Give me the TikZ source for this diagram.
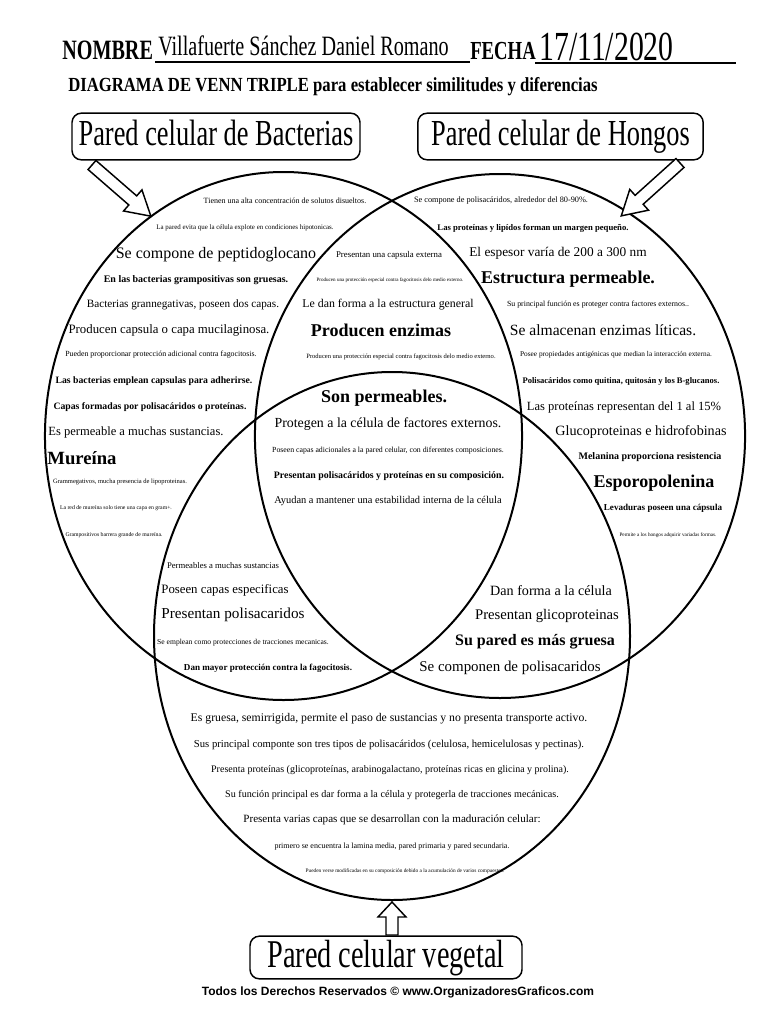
\documentclass[tikz,border=0pt]{standalone}
\usepackage{fontspec}
\setmainfont{Liberation Serif}
\setsansfont{Liberation Sans}
\newfontfamily\narrowserif[FakeStretch=0.72]{Liberation Serif}
\newfontfamily\titleserif[FakeStretch=0.835]{Liberation Serif}
\usetikzlibrary{positioning}
\newcommand{\fs}[1]{\fontsize{#1}{#1}\selectfont}

\begin{document}
\begin{tikzpicture}[
    x=0.75pt, y=-0.75pt,
    venn/.style={line width=1.5pt},
    tag/.style={
        draw,
        line width=1.1pt,
        rounded corners=7pt,
        inner sep=0pt,
        minimum height=35pt,
        text height=18.5pt,
        text depth=5pt,
        font=\narrowserif\fs{27.5}
    },
    txt/.style={inner sep=0pt},
    pics/hollow arrow/.style 2 args={code={
        \draw[line width=1.1pt, fill=white] (0,-6) -- (#1-#2,-6) -- (#1-#2,-14) -- (#1,0) -- (#1-#2,14) -- (#1-#2,6) -- (0,6) -- cycle;
    }}
]
    \useasboundingbox[fill=white] (0,0) rectangle (768,1024);

    % Header
    \node[txt, anchor=base west, font=\narrowserif\bfseries\fs{21}] (nombre) at (62,60) {NOMBRE};
    \node[txt, anchor=base west, font=\narrowserif\fs{21}] (alumno) at (158,56) {Villafuerte Sánchez Daniel Romano};
    \node[txt, anchor=base west, font=\narrowserif\bfseries\fs{19.5}] (fecha) at (470,60) {FECHA};
    \node[txt, anchor=base west, font=\narrowserif\fs{31}] (dia) at (539,61) {17/11/2020};
    \coordinate (ln1) at (155,62);
    \coordinate (ln2) at (470,62);
    \coordinate (ln3) at (535,63);
    \coordinate (ln4) at (736,63);
    \draw[line width=1.3pt] (ln1) -- (ln2);
    \draw[line width=1.3pt] (ln3) -- (ln4);
    \node[txt, anchor=base west, font=\titleserif\bfseries\fs{15}] (titulo) at (68,91) {DIAGRAMA DE VENN TRIPLE para establecer similitudes y diferencias};

    % Circles
    \coordinate (cB) at (283.5,436);
    \coordinate (cH) at (500,436);
    \coordinate (cV) at (392,636);
    \draw[venn] (cB) ellipse [x radius=178.9pt, y radius=198pt];
    \draw[venn] (cH) ellipse [x radius=183.8pt, y radius=196.5pt];
    \draw[venn] (cV) ellipse [x radius=178.5pt, y radius=198pt];

    % Labels
    \node[tag, minimum width=216pt] (bact) at (216,136.5) {Pared celular de Bacterias};
    \node[tag, minimum width=214pt] (hong) at (560.5,136.5) {Pared celular de Hongos};
    \node[tag, minimum width=204pt, minimum height=32pt, text height=20pt, text depth=5.5pt, font=\narrowserif\fs{29.5}] (veg) at (386,957.5) {Pared celular vegetal};
    \pic[rotate=-41] at (92,165) {hollow arrow={78}{24}};
    \pic[rotate=-138] at (680,163) {hollow arrow={79}{24}};
    \pic[rotate=90] at (392,935) {hollow arrow={33}{15}};

    % Bacterias
    \node[txt, font=\fs{6}] (b1) at (285,201) {Tienen una alta concentración de solutos disueltos.};
    \node[txt, font=\fs{5.2}] (b2) at (245,228) {La pared evita que la célula explote en condiciones hipotonicas.};
    \node[txt, font=\fs{12}] (b3) at (216,255) {Se compone de peptidoglocano};
    \node[txt, font=\bfseries\fs{7.5}] (b4) at (196,280) {En las bacterias grampositivas son gruesas.};
    \node[txt, font=\fs{8.4}] (b5) at (183,305) {Bacterias grannegativas, poseen dos capas.};
    \node[txt, font=\fs{9.6}] (b6) at (169,330) {Producen capsula o capa mucilaginosa.};
    \node[txt, font=\fs{5.9}] (b7) at (161,355) {Pueden proporcionar protección adicional contra fagocitosis.};
    \node[txt, font=\bfseries\fs{7.3}] (b8) at (154,381) {Las bacterias emplean capsulas para adherirse.};
    \node[txt, font=\bfseries\fs{7.3}] (b9) at (150,407) {Capas formadas por polisacáridos o proteínas.};
    \node[txt, font=\fs{9.4}] (b10) at (136,432) {Es permeable a muchas sustancias.};
    \node[txt, font=\bfseries\fs{14}] (b11) at (82,458) {Mureína};
    \node[txt, font=\fs{4.9}] (b12) at (120,482) {Grammegativos, mucha presencia de lipoproteinas.};
    \node[txt, font=\fs{4.3}] (b13) at (116,508) {La red de mureína solo tiene una capa en gram+.};
    \node[txt, font=\fs{4.3}] (b14) at (114,535) {Grampositivos barrera grande de mureína.};

    % Bacterias y Hongos
    \node[txt, font=\fs{6.6}] (bh1) at (389,255) {Presentan una capsula externa};
    \node[txt, font=\fs{3.8}] (bh2) at (390,280) {Producen una protección especial contra fagocitosis delo medio externo.};
    \node[txt, font=\fs{8.9}] (bh3) at (388,305) {Le dan forma a la estructura general};
    \node[txt, font=\bfseries\fs{13.5}] (bh4) at (381,330) {Producen enzimas};
    \node[txt, font=\fs{4.9}] (bh5) at (401,357) {Producen una protección especial contra fagocitosis delo medio externo.};

    % Hongos
    \node[txt, font=\fs{6.2}] (h1) at (501,201) {Se compone de polisacáridos, alrededor del 80-90\%.};
    \node[txt, font=\bfseries\fs{6.5}] (h2) at (533,228) {Las proteínas y lipídos forman un margen pequeño.};
    \node[txt, font=\fs{10}] (h3) at (558,253) {El espesor varía de 200 a 300 nm};
    \node[txt, font=\bfseries\fs{13.5}] (h4) at (568,279) {Estructura permeable.};
    \node[txt, font=\fs{5.9}] (h5) at (598,305) {Su principal función es proteger contra factores externos..};
    \node[txt, font=\fs{11.7}] (h6) at (603,330) {Se almacenan enzimas líticas.};
    \node[txt, font=\fs{5.5}] (h7) at (616,355) {Posee propiedades antigénicas que median la interacción externa.};
    \node[txt, font=\bfseries\fs{6.4}] (h8) at (621,381) {Polisacáridos como quitina, quitosán y los B-glucanos.};
    \node[txt, font=\fs{9.4}] (h9) at (624,407) {Las proteínas representan del 1 al 15\%};
    \node[txt, font=\fs{10.6}] (h10) at (641,432) {Glucoproteinas e hidrofobinas};
    \node[txt, font=\bfseries\fs{7.5}] (h11) at (650,457) {Melanina proporciona resistencia};
    \node[txt, font=\bfseries\fs{13.5}] (h12) at (654,483) {Esporopolenina};
    \node[txt, font=\bfseries\fs{6.8}] (h13) at (663,508) {Levaduras poseen una cápsula};
    \node[txt, font=\fs{3.9}] (h14) at (668,535) {Permite a los hongos adquirir variadas formas.};

    % Las tres
    \node[txt, font=\bfseries\fs{13.5}] (c1) at (384,398) {Son permeables.};
    \node[txt, font=\fs{10.4}] (c2) at (388,424) {Protegen a la célula de factores externos.};
    \node[txt, font=\fs{5.85}] (c3) at (388,451) {Poseen capas adicionales a la pared celular, con diferentes composiciones.};
    \node[txt, font=\bfseries\fs{7.4}] (c4) at (389,476) {Presentan polisacáridos y proteínas en su composición.};
    \node[txt, font=\fs{7.8}] (c5) at (388,501) {Ayudan a mantener una estabilidad interna de la célula};

    % Bacterias y vegetal
    \node[txt, font=\fs{6.5}] (bv1) at (223,566) {Permeables a muchas sustancias};
    \node[txt, font=\fs{9.6}] (bv2) at (225,590) {Poseen capas especificas};
    \node[txt, font=\fs{11.4}] (bv3) at (233,615) {Presentan polisacaridos};
    \node[txt, font=\fs{5.7}] (bv4) at (243,643) {Se emplean como protecciones de tracciones mecanicas.};
    \node[txt, font=\bfseries\fs{6.8}] (bv5) at (268,668) {Dan mayor protección contra la fagocitosis.};

    % Hongos y vegetal
    \node[txt, font=\fs{10.6}] (hv1) at (551,591) {Dan forma a la célula};
    \node[txt, font=\fs{11}] (hv2) at (547,616) {Presentan glicoproteinas};
    \node[txt, font=\bfseries\fs{12}] (hv3) at (535,642) {Su pared es más gruesa};
    \node[txt, font=\fs{11.2}] (hv4) at (510,668) {Se componen de polisacaridos};

    % Vegetal
    \node[txt, font=\fs{8.8}] (v1) at (389,719) {Es gruesa, semirrigida, permite el paso de sustancias y no presenta transporte activo.};
    \node[txt, font=\fs{8}] (v2) at (389,745) {Sus principal componte son tres tipos de polisacáridos (celulosa, hemicelulosas y pectinas).};
    \node[txt, font=\fs{7.5}] (v3) at (390,770) {Presenta proteínas (glicoproteínas, arabinogalactano, proteínas ricas en glicina y prolina).};
    \node[txt, font=\fs{7.6}] (v4) at (392,795) {Su función principal es dar forma a la célula y protegerla de tracciones mecánicas.};
    \node[txt, font=\fs{8.3}] (v5) at (392,820) {Presenta varias capas que se desarrollan con la maduración celular:};
    \node[txt, font=\fs{6}] (v6) at (392,847) {primero se encuentra la lamina media, pared primaria y pared secundaria.};
    \node[txt, font=\fs{4}] (v7) at (405,871) {Pueden verse modificadas en su composición debido a la acumulación de varios compuestos.};

    % Footer
    \node[txt, font=\sffamily\bfseries\fs{9}] (pie) at (398,992) {Todos los Derechos Reservados © www.OrganizadoresGraficos.com};
\end{tikzpicture}
\end{document}
